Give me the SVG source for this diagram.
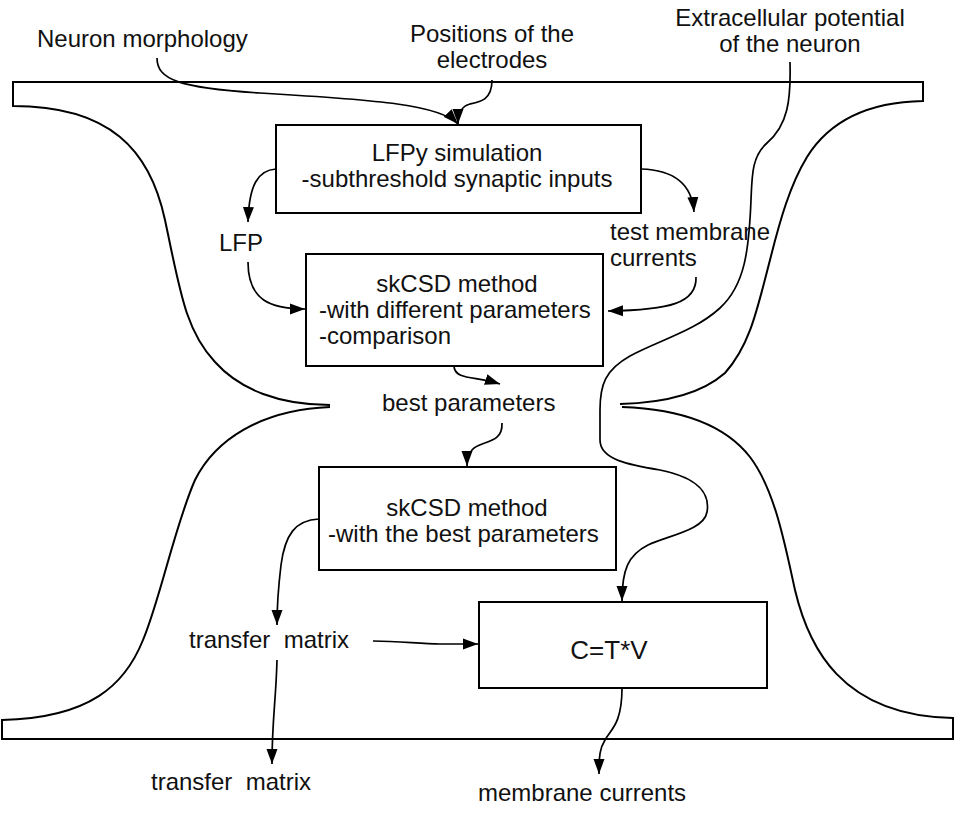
<svg xmlns="http://www.w3.org/2000/svg" width="955" height="813" viewBox="0 0 955 813">
<style>
.t{font-family:"Liberation Sans",Arial,sans-serif;font-size:24px;fill:#111}
.m{text-anchor:middle}
.box{fill:#fff;stroke:#000;stroke-width:2}
.shape{fill:none;stroke:#000;stroke-width:2}
.c{fill:none;stroke:#000;stroke-width:1.7;marker-end:url(#ah)}
</style>
<defs>
<marker id="ah" markerUnits="userSpaceOnUse" markerWidth="16" markerHeight="12" viewBox="0 0 16 12" refX="15" refY="6" orient="auto">
<path d="M0,0.5 L15,6 L0,11.5 z" fill="#000"/>
</marker>
</defs>
<rect width="955" height="813" fill="#fff"/>
<g id="outline">
<path class="shape" d="M330,405 C 280,405 240,390 215,362 C 185,330 180,290 165,220 C 150,150 110,106 13,106 L13,82 L923,82 L923,101 C 870,102 830,120 807,157 C 790,185 780,220 770,260 C 757,310 750,345 725,373 C 700,395 660,403 620,404"/>
<path class="shape" d="M622,407 C 680,409 725,425 750,457 C 775,490 785,545 795,590 C 808,645 840,716 953,718 L953,739 L2,739 L2,720 C 90,718 125,685 143,640 C 160,600 175,525 195,480 C 215,440 260,410 330,407"/>
</g>
<g id="n-morph"><text class="t" x="37" y="47">Neuron morphology</text></g>
<g id="n-pos"><text class="t m" x="492" y="42">Positions of the</text><text class="t m" x="492" y="68">electrodes</text></g>
<g id="n-extra"><text class="t m" x="790" y="26">Extracellular potential</text><text class="t m" x="790" y="52">of the neuron</text></g>
<g id="n-lfpy"><rect class="box" x="276" y="125" width="365" height="88"/><text class="t m" x="457" y="161">LFPy simulation</text><text class="t m" x="457" y="187">-subthreshold synaptic inputs</text></g>
<g id="n-lfp"><text class="t" x="219" y="251">LFP</text></g>
<g id="n-test"><text class="t" x="610" y="240">test membrane</text><text class="t" x="610" y="266">currents</text></g>
<g id="n-sk1"><rect class="box" x="306" y="254" width="297" height="112"/><text class="t m" x="457" y="292">skCSD method</text><text class="t" x="319" y="318">-with different parameters</text><text class="t" x="319" y="344">-comparison</text></g>
<g id="n-best"><text class="t" x="382" y="411">best parameters</text></g>
<g id="n-sk2"><rect class="box" x="319" y="467" width="297" height="103"/><text class="t m" x="467" y="516">skCSD method</text><text class="t" x="328" y="542">-with the best parameters</text></g>
<g id="n-tm1"><text class="t" x="189" y="648" xml:space="preserve">transfer  matrix</text></g>
<g id="n-ctv"><rect class="box" x="479" y="602" width="288" height="86"/><text class="t m" x="609" y="659" style="font-size:26px">C=T*V</text></g>
<g id="n-tm2"><text class="t" x="151" y="790" xml:space="preserve">transfer  matrix</text></g>
<g id="n-mc"><text class="t" x="478" y="801">membrane currents</text></g>
<g id="connectors">
<path class="c" d="M157,58 C 157,80 180,88 260,93 C 380,100 440,105 458,124"/>
<path class="c" d="M492,80 C 492,100 480,102 470,104 C 462,106 458,112 458,124"/>
<path class="c" d="M276,169 C 258,170 249,185 248,222"/>
<path class="c" d="M248,262 C 248,300 270,309 305,309"/>
<path class="c" d="M641,169 C 675,170 692,185 694,212"/>
<path class="c" d="M696,277 C 697,303 670,310 608,311"/>
<path class="c" d="M454,367 C 456,380 475,376 500,384"/>
<path class="c" d="M502,423 C 503,445 480,440 472,450 C 468,455 467,460 467,466"/>
<path class="c" d="M319,519 C 295,520 285,535 281,565 C 278,590 277,605 277,625"/>
<path class="c" d="M373,641 C 400,641 420,644 440,644 L478,644"/>
<path class="c" d="M790,62 C 791,100 788,125 767,143 C 752,156 752,175 751,200 C 749,250 745,285 720,308 C 695,331 660,340 630,356 C 605,370 600,385 600,410 L600,440 C 600,460 630,465 660,470 C 700,478 710,495 707,512 C 704,530 670,535 648,545 C 628,555 622,570 622,601"/>
<path class="c" d="M622,688 C 622,725 610,730 605,740 C 600,748 599,755 599,774"/>
<path class="c" d="M277,660 C 276,700 272,720 272,764"/>
</g>
</svg>
